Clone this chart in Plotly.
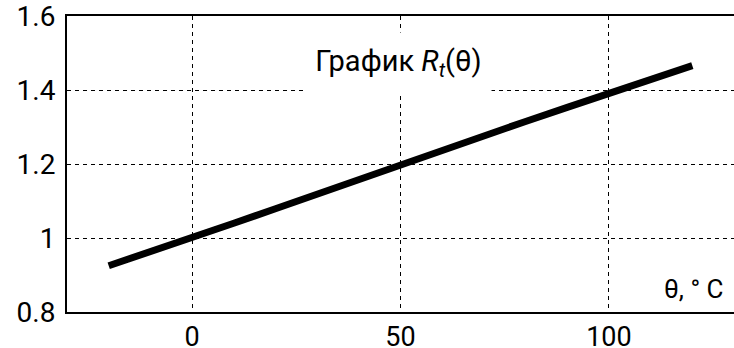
import plotly.graph_objects as go

theta = [-20, -10, -5, 0, 10, 20, 30, 40, 50, 60, 70, 80, 90, 100, 110, 120]
R_t = [0.925, 0.962, 0.980, 1.0, 1.040, 1.079, 1.119, 1.158, 1.198, 1.237, 1.276, 1.315, 1.353, 1.392, 1.430, 1.466]

x_ticks = [0, 50, 100]
y_ticks = [0.8, 1.0, 1.2, 1.4, 1.6]
y_ticktext = ["0.8", "1", "1.2", "1.4", "1.6"]

FONT = "Roboto"

fig = go.Figure()
fig.add_trace(go.Scatter(x=theta, y=R_t, mode="lines",
                         line=dict(color="black", width=7),
                         hoverinfo="skip", showlegend=False))

fig.update_layout(
    width=734, height=348,
    margin=dict(l=67, r=0, t=16, b=36, autoexpand=False),
    paper_bgcolor="white", plot_bgcolor="white",
    font=dict(family=FONT, size=28, color="black"),
    xaxis=dict(range=[-30, 130], tickvals=x_ticks, showgrid=True,
               gridcolor="black", gridwidth=1, griddash="4px,4px",
               zeroline=False, showline=True, linecolor="black", linewidth=2,
               mirror=True, ticks="", ticklabelstandoff=0, automargin=False,
               ticklabeloverflow="allow",
               tickfont=dict(family=FONT, size=27, color="black")),
    yaxis=dict(range=[0.8, 1.6], tickvals=y_ticks, ticktext=y_ticktext,
               showgrid=True, gridcolor="black", gridwidth=1, griddash="4px,4px",
               zeroline=False, showline=True, linecolor="black", linewidth=2,
               mirror=False, ticks="", ticklabelstandoff=4, automargin=False,
               ticklabeloverflow="allow",
               tickfont=dict(family=FONT, size=28, color="black")),
)

fig.add_annotation(xref="paper", yref="paper", x=0.497, y=0.84,
                   xanchor="center", yanchor="middle",
                   text="График <i>R</i><sub><i>t</i></sub>(θ)",
                   showarrow=False, bgcolor="white", width=183, height=58,
                   font=dict(family=FONT, size=29, color="black"))

fig.add_annotation(xref="paper", yref="paper", x=0.987, y=0.02,
                   xanchor="right", yanchor="bottom",
                   text="θ, ° C", showarrow=False, bgcolor="white",
                   font=dict(family=FONT, size=26, color="black"))

fig.write_html("out.html",
               config={"displayModeBar": False},
               post_script="document.body.style.margin='0';document.body.style.padding='0';")
